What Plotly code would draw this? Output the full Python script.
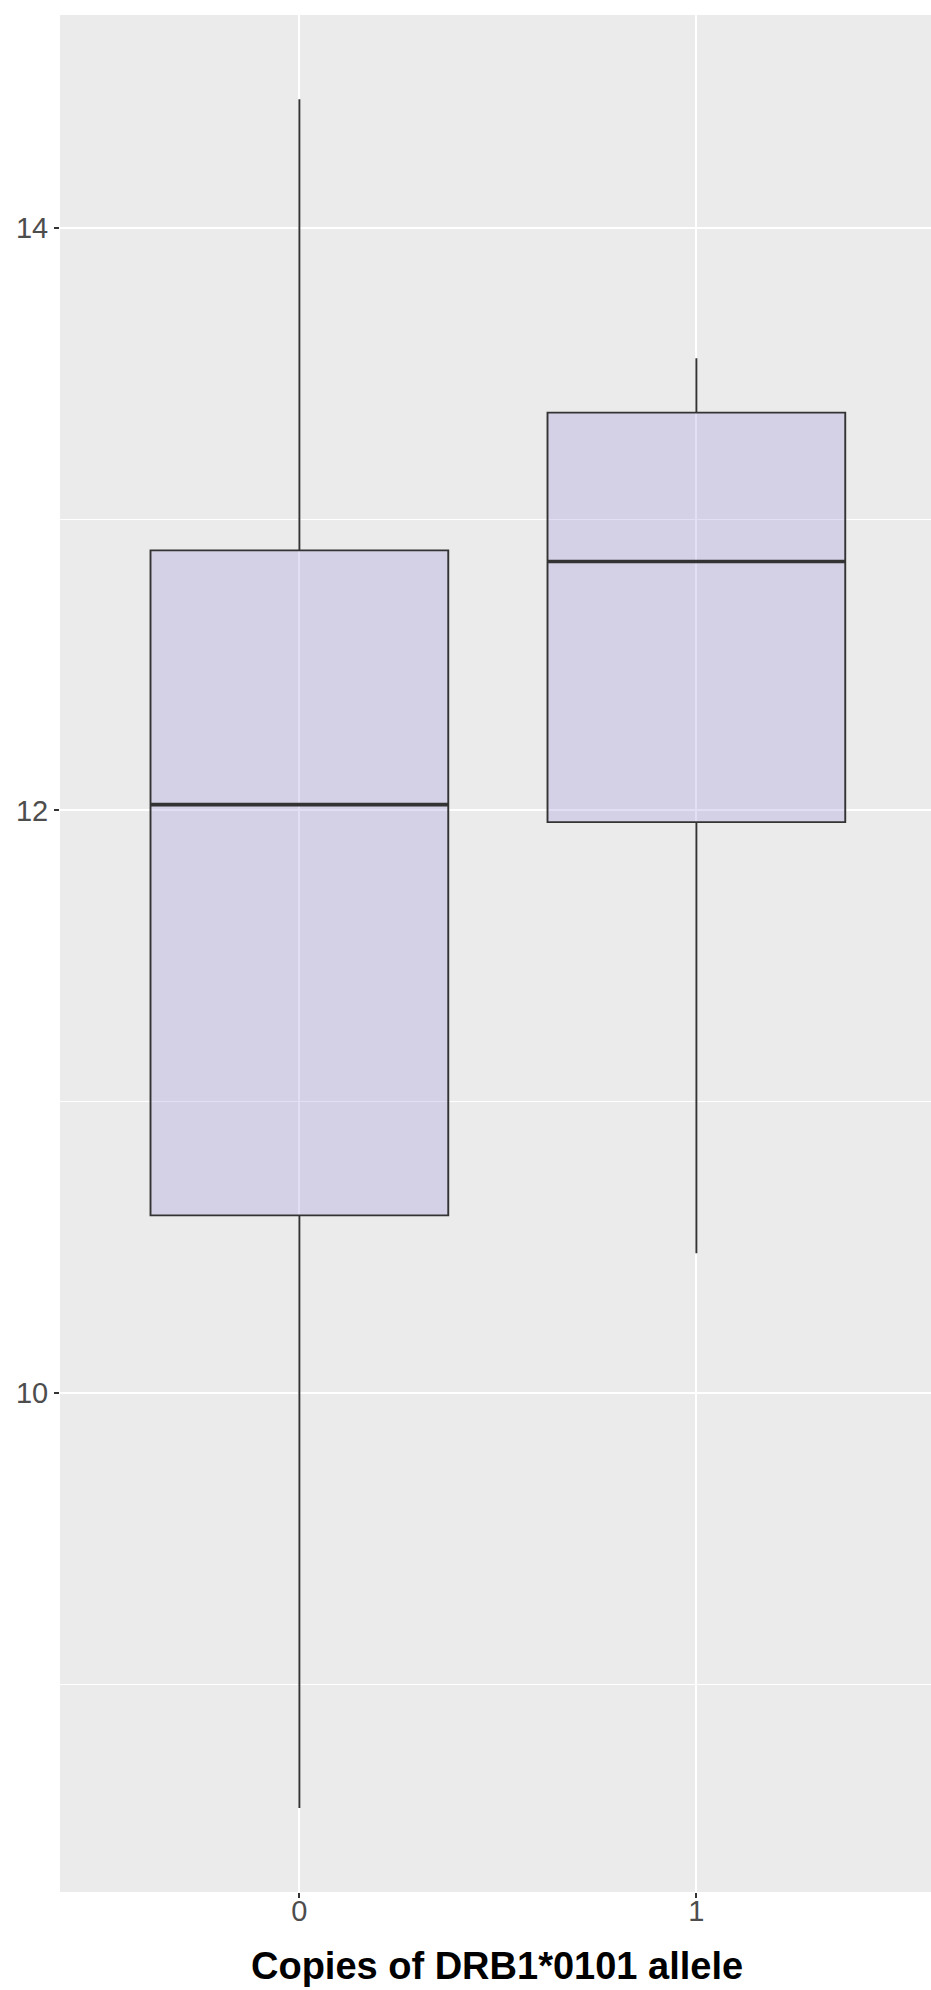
import plotly.graph_objects as go

categories = [0, 1]
tick_labels = ["0", "1"]
q1 = [10.61, 11.96]
medians = [12.02, 12.855]
q3 = [12.893, 13.366]
lower_whisker = [8.575, 10.48]
upper_whisker = [14.442, 13.553]

BOX_WIDTH = 0.75
FILL = "rgba(158,145,218,0.3)"
LINE = "#333333"

W, H = 931, 1990
ML, MR, MT, MB = 60, 0, 15, 98
PLOT_H = H - MT - MB

fig = go.Figure()
for i, c in enumerate(categories):
    fig.add_trace(go.Box(
        x=[c], q1=[q1[i]], median=[medians[i]], q3=[q3[i]],
        lowerfence=[lower_whisker[i]], upperfence=[upper_whisker[i]],
        width=BOX_WIDTH, whiskerwidth=0, boxpoints=False,
        fillcolor=FILL, line=dict(color=LINE, width=1.9),
        showlegend=False, hoverinfo="skip",
    ))
    # thicker median line (ggplot fatten)
    fig.add_trace(go.Scatter(
        x=[c - BOX_WIDTH / 2, c + BOX_WIDTH / 2], y=[medians[i], medians[i]],
        mode="lines", line=dict(color=LINE, width=3.6),
        showlegend=False, hoverinfo="skip",
    ))

fig.update_layout(
    width=W, height=H,
    margin=dict(l=ML, r=MR, t=MT, b=MB),
    paper_bgcolor="white", plot_bgcolor="#EBEBEB",
    font=dict(family="Liberation Sans, Arial, sans-serif", color="#4D4D4D"),
    showlegend=False,
)
fig.update_xaxes(
    range=[-0.603, 1.591], tickvals=categories, ticktext=tick_labels,
    showgrid=True, gridcolor="white", gridwidth=2, zeroline=False,
    ticks="outside", ticklen=5, tickwidth=1.5, tickcolor="#333333",
    tickfont=dict(size=29, color="#4D4D4D"), showline=False,
    ticklabelstandoff=-12,
)
fig.update_yaxes(
    range=[8.287, 14.731], tickvals=[10, 12, 14],
    showgrid=True, gridcolor="white", gridwidth=2, zeroline=False,
    ticks="outside", ticklen=5, tickwidth=1.5, tickcolor="#333333",
    tickfont=dict(size=29, color="#4D4D4D"), showline=False,
    minor=dict(tickvals=[9, 11, 13], showgrid=True, gridcolor="white", gridwidth=1, ticks=""),
)
fig.add_annotation(
    text="<b>Copies of DRB1*0101 allele</b>", xref="paper", yref="paper",
    x=(497 - ML) / (W - ML - MR), y=-51 / PLOT_H, xanchor="center", yanchor="top",
    showarrow=False, font=dict(size=38, color="black", family="Liberation Sans, Arial, sans-serif"),
)
fig.write_html(
    "out.html",
    config={"displayModeBar": False},
    post_script="document.body.style.margin='0';document.body.style.overflow='hidden';",
)
